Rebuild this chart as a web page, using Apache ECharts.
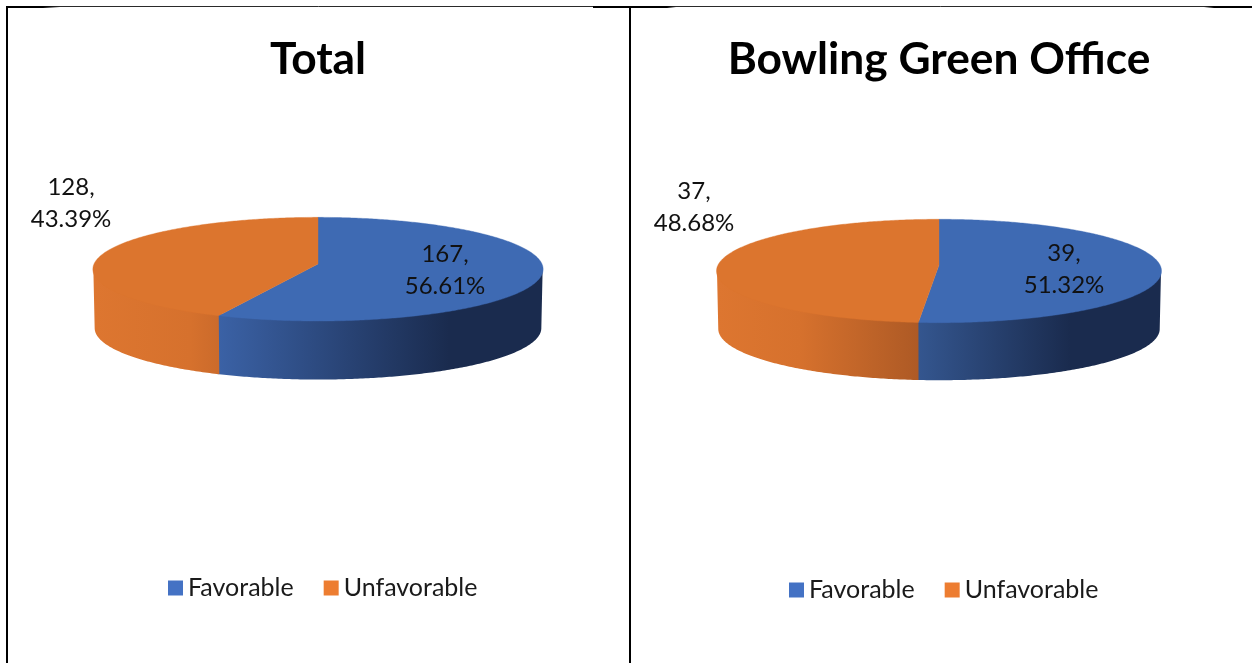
<!DOCTYPE html>
<html><head><meta charset="utf-8">
<style>html,body{margin:0;padding:0;background:#fff}#c{width:1252px;height:663px}</style>
<script src="https://cdn.jsdelivr.net/npm/echarts@6/dist/echarts.min.js"></script>
</head><body><div id="c"></div>
<script>
const categories = ['Favorable', 'Unfavorable'];
const totalValues = [167, 128];
const bowlingValues = [39, 37];
const chartTitles = ['Total', 'Bowling Green Office'];
const legendColors = ['#4472c4', '#ed7d31'];
const topColors = ['#3e6ab3', '#dc752e'];

const panels = [
  { values: totalValues, cx: 318, cy: 264, a: 224, b: 51.3, k: 0.1, depth: 59, titleX: 318, legendTop: 570.5, legendLeft: 163,
    sideStops: [
      [[217, '#3b62a6'], [449, '#1a2b4e'], [541, '#1a2b4e']],
      [[95, '#dd7630'], [190, '#d6712d'], [217, '#cc6b2b']]
    ],
    labels: [[445, 270], [71, 203]] },
  { values: bowlingValues, cx: 939, cy: 265, a: 221, b: 51, k: 0.116, depth: 58, titleX: 939, legendTop: 572.5, legendLeft: 784,
    sideStops: [
      [[918, '#34568f'], [1070, '#1a2b4e'], [1160, '#1a2b4e']],
      [[718, '#dd7630'], [800, '#d6712d'], [918, '#ae5a25']]
    ],
    labels: [[1064, 269], [694, 207]] }
];

function rim(p, theta, scale, dy) {
  const u = Math.sin(theta), v = Math.cos(theta), w = 1 + p.k * v;
  return [p.cx + p.a * scale * u / w, p.cy - p.b * scale * v / w + dy];
}
function arcPoints(p, t0, t1, scale, dy) {
  const n = Math.max(2, Math.ceil((t1 - t0) * 90)), pts = [];
  for (let i = 0; i <= n; i++) pts.push(rim(p, t0 + (t1 - t0) * i / n, scale, dy));
  return pts;
}
function gradient(stops) {
  const x0 = stops[0][0], x1 = stops[stops.length - 1][0];
  return { type: 'linear', global: true, x: x0, y: 0, x2: x1, y2: 0,
    colorStops: stops.map(s => ({ offset: (s[0] - x0) / (x1 - x0), color: s[1] })) };
}

const series = [];
panels.forEach((p) => {
  const sum = p.values.reduce((a, b) => a + b, 0);
  const vis0 = Math.acos(-p.k), vis1 = 2 * Math.PI - vis0;
  let acc = 0;
  p.values.forEach((val, i) => {
    const t0 = acc / sum * 2 * Math.PI;
    acc += val;
    const t1 = acc / sum * 2 * Math.PI;
    const pct = (val / sum * 100).toFixed(2);
    // the earlier slice's wall runs slightly under the next one so no seam shows
    const s0 = Math.max(t0, vis0), s1 = Math.min(i === 0 ? t1 + 0.012 : t1, vis1);
    series.push({
      type: 'custom', name: categories[i], coordinateSystem: 'none',
      itemStyle: { color: legendColors[i] }, silent: true, animation: false,
      z: 2 + i,
      data: [[val]],
      renderItem: () => {
        const topEdge = arcPoints(p, s0, s1, 0.998, -1.5);
        const bottomEdge = arcPoints(p, s0, s1, 0.992, p.depth);
        return { type: 'polygon', shape: { points: topEdge.concat(bottomEdge.reverse()) },
          style: { fill: gradient(p.sideStops[i]) } };
      }
    });
    series.push({
      type: 'custom', name: categories[i], coordinateSystem: 'none',
      itemStyle: { color: legendColors[i] }, silent: true, animation: false,
      z: 5,
      data: [[val]],
      renderItem: () => {
        const pts = arcPoints(p, t0, t1, 1, 0).concat([[p.cx, p.cy]]);
        return { type: 'group', children: [
          { type: 'polygon', shape: { points: pts },
            style: { fill: topColors[i], stroke: topColors[i], lineWidth: 0.4 } },
          { type: 'text', z2: 10, style: { x: p.labels[i][0], y: p.labels[i][1], text: val + ',\n' + pct + '%',
            align: 'center', verticalAlign: 'middle', fill: '#111', font: '24px Lato', lineHeight: 32 } }
        ] };
      }
    });
  });
});

function fade(x0, x1, c0, c1) {
  return { type: 'linear', global: true, x: x0, y: 0, x2: x1, y2: 0,
    colorStops: [{ offset: 0, color: c0 }, { offset: 1, color: c1 }] };
}
const clear = 'rgba(0,0,0,0)';
const frame = [
  { x1: 7, y1: 6.5, x2: 1252, y2: 6.5, w: 1, c: '#2a2a2a' },
  { x1: 7, y1: 7, x2: 43, y2: 7, w: 2, c: '#000' },
  { x1: 43, y1: 7, x2: 60, y2: 7, w: 2, c: fade(43, 60, '#000', clear) },
  { x1: 593, y1: 7, x2: 667, y2: 7, w: 2, c: '#000' },
  { x1: 667, y1: 7, x2: 676, y2: 7, w: 2, c: fade(667, 676, '#000', clear) },
  { x1: 1214, y1: 7, x2: 1252, y2: 7, w: 2, c: '#000' },
  { x1: 1204, y1: 7, x2: 1214, y2: 7, w: 2, c: fade(1204, 1214, clear, '#000') },
  { x1: 7, y1: 6, x2: 7, y2: 663, w: 2, c: '#000' },
  { x1: 630, y1: 6, x2: 630, y2: 663, w: 2, c: '#000' }
];

const chart = echarts.init(document.getElementById('c'), null, { renderer: 'canvas' });
chart.setOption({
  animation: false,
  backgroundColor: '#fff',
  title: panels.map((p, i) => ({
    text: chartTitles[i], left: p.titleX - 5, top: 33, textAlign: 'center',
    textStyle: { fontFamily: 'Lato', fontWeight: 'bold', fontSize: 44.3, color: '#000' }
  })),
  legend: panels.map((p) => ({
    data: categories.map((c, i) => ({ name: c, itemStyle: { color: legendColors[i] }, icon: 'rect' })),
    left: p.legendLeft, top: p.legendTop, itemWidth: 15, itemHeight: 15, itemGap: 30,
    textStyle: { fontFamily: 'Lato', fontSize: 25, color: '#1a1a1a' }, selectedMode: false
  })),
  graphic: frame.map(l => ({
    type: 'line', z: 20, shape: { x1: l.x1, y1: l.y1, x2: l.x2, y2: l.y2 },
    style: { stroke: l.c, lineWidth: l.w }
  })),
  series
});
</script></body></html>
